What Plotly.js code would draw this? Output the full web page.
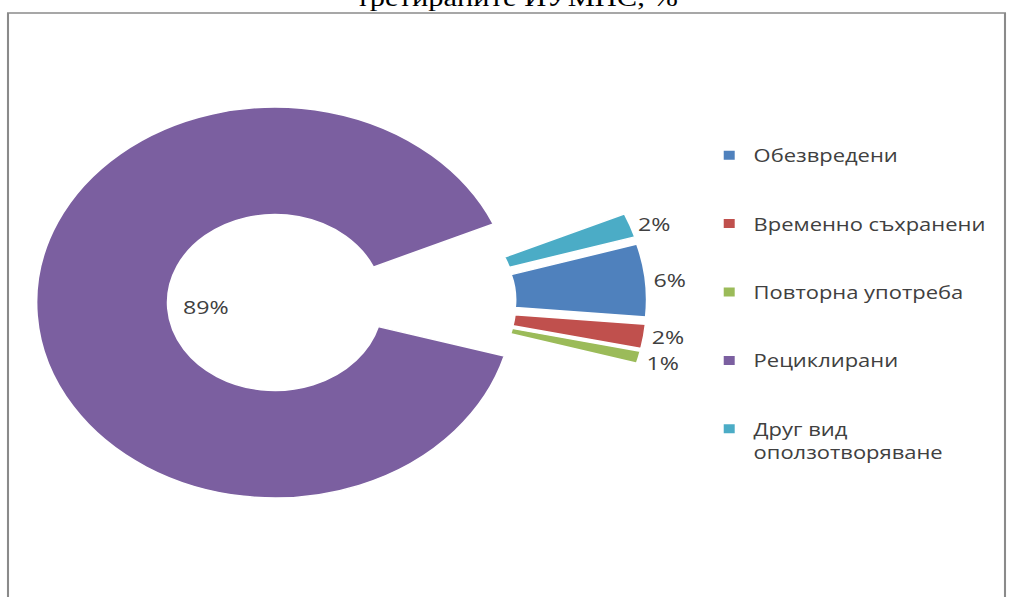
<!DOCTYPE html>
<html>
<head>
<meta charset="utf-8">
<script src="https://cdn.plot.ly/plotly-3.0.1.min.js"></script>
<style>
  html, body { margin: 0; padding: 0; background: #fff; overflow: hidden; }
  #frame { position: relative; width: 1010px; height: 597px; overflow: hidden; }
  /* the reference picture is horizontally stretched; reproduce that stretch */
  #chart { position: absolute; left: 0; transform-origin: 0 0; }
  /* the reference has no leader lines for the outside labels */
  #chart path.textline { stroke-opacity: 0 !important; }
</style>
</head>
<body>
<div id="frame"><div id="chart"></div></div>
<script>
// ---- data ----
const categories = ['Обезвредени', 'Временно съхранени', 'Повторна употреба', 'Рециклирани', 'Друг вид<br>оползотворяване'];
const values = [6, 2, 1, 89, 2];
const colors = ['#4F81BD', '#C0504D', '#9BBB59', '#7B5FA0', '#4BACC6'];
const titleText = 'третираните ИУМПС, %';
const bigIndex = 3;   // the dominant slice (Рециклирани)

// ---- geometry (unstretched plot space) ----
const S = 1.22;                 // horizontal stretch of the reference image
const T = 3;                    // hidden strip at the top
const WIN_W = 1010, WIN_H = 597;
const W = Math.round(WIN_W / S);
const H = WIN_H + T;
const toU = X => X / S;                 // screen x -> plot x (px)
const px = X => toU(X) / W;             // screen x -> paper fraction
const py = Y => 1 - (Y + T) / H;        // screen y -> paper fraction
const hole = 0.45;
const r = 195.5;                         // ring radius (plot px)
const cxU = toU(275), cyP = 302.5 + T;   // ring centre (plot px)
const shiftU = 80;                       // small slices are moved to the right
const pullSmall = 0.15;

const chartDiv = document.getElementById('chart');
chartDiv.style.width = W + 'px';
chartDiv.style.height = H + 'px';
chartDiv.style.top = (-T) + 'px';
chartDiv.style.transform = 'scaleX(' + S + ')';

const dom = (cx, cy, half) => ({
  x: [(cx - half) / W, (cx + half) / W],
  y: [1 - (cy + half) / H, 1 - (cy - half) / H]
});

const labelFont = { family: 'Open Sans, Noto Sans, sans-serif', size: 19, color: '#404040' };
const clear = 'rgba(0,0,0,0)';

// ring with the big slice
const pieBig = {
  type: 'pie', labels: categories, values: values, sort: false,
  direction: 'clockwise', rotation: 73.5, hole: hole,
  marker: {
    colors: colors.map((c, i) => i === bigIndex ? c : clear),
    line: { color: colors.map((c, i) => i === bigIndex ? '#ffffff' : clear), width: 1.5 }
  },
  textinfo: 'none', showlegend: false,
  domain: dom(cxU, cyP, r), hoverinfo: 'label+value'
};

// the small, exploded slices
const halfSmall = r * (1 + pullSmall);
const pieSmall = {
  type: 'pie', labels: categories, values: values, sort: false,
  direction: 'clockwise', rotation: 73.5, hole: hole,
  pull: values.map((v, i) => i === bigIndex ? 0 : pullSmall),
  marker: {
    colors: colors.map((c, i) => i === bigIndex ? clear : c),
    line: { color: colors.map((c, i) => i === bigIndex ? clear : '#ffffff'), width: 1.5 }
  },
  texttemplate: '%{value}%',
  textposition: values.map((v, i) => i === bigIndex ? 'none' : 'outside'),
  outsidetextfont: labelFont,
  showlegend: false,
  domain: dom(cxU + shiftU, cyP, halfSmall), hoverinfo: 'label+value'
};

// legend entries (one per category, spaced via group gaps)
const legendTraces = categories.map((c, i) => ({
  type: 'scatter', mode: 'markers', x: [null], y: [null],
  name: c, legendgroup: 'g' + i,
  marker: { symbol: 'square', size: 9, color: colors[i] },
  showlegend: true, hoverinfo: 'skip'
}));

const layout = {
  width: W, height: H,
  margin: { l: 0, r: 0, t: 0, b: 0 },
  paper_bgcolor: '#ffffff',
  plot_bgcolor: 'rgba(0,0,0,0)',
  title: {
    text: titleText,
    font: { family: 'Liberation Serif, Times New Roman, serif', size: 25, color: '#000' },
    x: px(517), xanchor: 'center',
    y: 1, yanchor: 'middle', yref: 'container'
  },
  xaxis: { visible: false, range: [0, 1] },
  yaxis: { visible: false, range: [0, 1] },
  showlegend: true,
  legend: {
    x: (toU(728) - 19) / W, xanchor: 'left',
    y: py(137), yanchor: 'top',
    font: { family: 'Open Sans, Noto Sans, sans-serif', size: 18, color: '#404040' },
    tracegroupgap: 42, valign: 'top',
    bgcolor: 'rgba(0,0,0,0)'
  },
  shapes: [{
    type: 'rect', xref: 'paper', yref: 'paper',
    x0: px(8), x1: px(1005), y0: -0.02, y1: py(13),
    line: { color: '#8a8a8a', width: 1.7 }
  }],
  annotations: [{
    xref: 'paper', yref: 'paper',
    x: (cxU - r * hole * 0.65) / W, xanchor: 'center',
    y: py(307), yanchor: 'middle',
    text: values[bigIndex] + '%',
    showarrow: false, font: labelFont
  }]
};

Plotly.newPlot('chart', [pieBig, pieSmall].concat(legendTraces), layout, { displayModeBar: false, staticPlot: true });
</script>
</body>
</html>
